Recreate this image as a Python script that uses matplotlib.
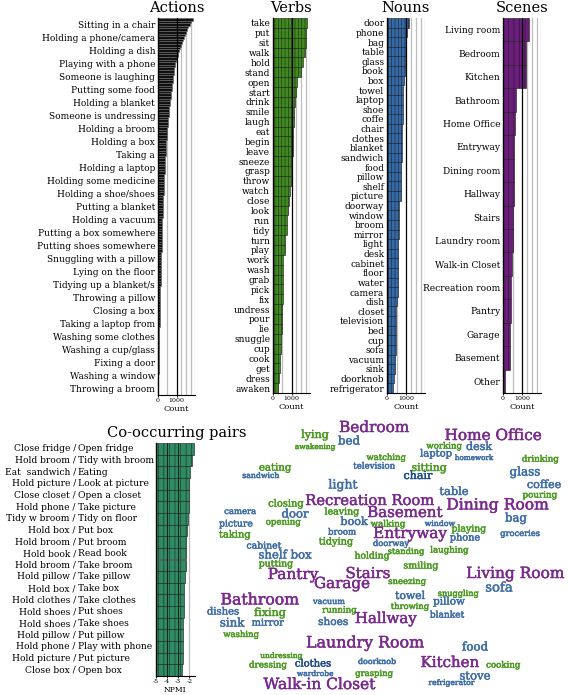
import matplotlib.pyplot as plt
import matplotlib.patheffects as pe
from matplotlib.transforms import blended_transform_factory

plt.rcParams["font.family"] = "DejaVu Serif"
plt.rcParams["hatch.linewidth"] = 0.35

# ---------------- data ----------------
action_labels = [
    "Sitting in a chair", "Holding a phone/camera", "Holding a dish",
    "Playing with a phone", "Someone is laughing", "Putting some food",
    "Holding a blanket", "Someone is undressing", "Holding a broom",
    "Holding a box", "Taking a", "Holding a laptop", "Holding some medicine",
    "Holding a shoe/shoes", "Putting a blanket", "Holding a vacuum",
    "Putting a box somewhere", "Putting shoes somewhere",
    "Snuggling with a pillow", "Lying on the floor", "Tidying up a blanket/s",
    "Throwing a pillow", "Closing a box", "Taking a laptop from",
    "Washing some clothes", "Washing a cup/glass", "Fixing a door",
    "Washing a window", "Throwing a broom",
]
# one value per action class (only every 5th class is labelled)
action_counts = [
    1880, 1775, 1710, 1640, 1590, 1535, 1480, 1425, 1365, 1310,
    1255, 1205, 1155, 1105, 1060, 1020, 985, 945, 915, 890,
    865, 840, 820, 800, 785, 765, 750, 735, 720, 705,
    690, 670, 650, 630, 615, 600, 585, 573, 560, 548,
    535, 523, 511, 499, 487, 475, 466, 456, 446, 436,
    426, 416, 407, 399, 392, 385, 378, 371, 364, 357,
    349, 342, 335, 328, 321, 314, 307, 300, 292, 285,
    278, 271, 264, 258, 254, 250, 246, 241, 237, 233,
    229, 225, 221, 217, 212, 208, 204, 200, 195, 191,
    187, 183, 179, 175, 170, 166, 162, 158, 153, 149,
    145, 140, 136, 132, 127, 123, 119, 114, 110, 107,
    105, 102, 99, 97, 94, 91, 88, 86, 83, 80,
    77, 74, 71, 68, 65, 62, 59, 56, 53, 50,
    47, 44, 41, 38, 35, 32, 29, 26, 24, 22,
    19, 17, 15, 12, 10,
]

verb_labels = [
    "take", "put", "sit", "walk", "hold", "stand", "open", "start", "drink",
    "smile", "laugh", "eat", "begin", "leave", "sneeze", "grasp", "throw",
    "watch", "close", "look", "run", "tidy", "turn", "play", "work", "wash",
    "grab", "pick", "fix", "undress", "pour", "lie", "snuggle", "cup", "cook",
    "get", "dress", "awaken",
]
verb_counts = [
    1860, 1800, 1780, 1750, 1600, 1530, 1310, 1270, 1200, 1130, 1110, 1100,
    1090, 1070, 1000, 980, 960, 930, 870, 830, 780, 730, 670, 660, 545, 545,
    540, 530, 520, 510, 500, 490, 455, 450, 360, 360, 310, 250,
]

noun_labels = [
    "door", "phone", "bag", "table", "glass", "book", "box", "towel",
    "laptop", "shoe", "coffe", "chair", "clothes", "blanket", "sandwich",
    "food", "pillow", "shelf", "picture", "doorway", "window", "broom",
    "mirror", "light", "desk", "cabinet", "floor", "water", "camera", "dish",
    "closet", "television", "bed", "cup", "sofa", "vacuum", "sink",
    "doorknob", "refrigerator",
]
noun_counts = [
    1180, 1030, 1010, 1000, 960, 930, 880, 860, 850, 840, 820, 810, 800,
    790, 770, 760, 750, 740, 720, 640, 630, 620, 610, 600, 600, 590, 580,
    570, 560, 500, 490, 480, 470, 460, 450, 430, 410, 380, 340,
]

scene_labels = [
    "Living room", "Bedroom", "Kitchen", "Bathroom", "Home Office",
    "Entryway", "Dining room", "Hallway", "Stairs", "Laundry room",
    "Walk-in Closet", "Recreation room", "Pantry", "Garage", "Basement",
    "Other",
]
scene_counts = [
    1390, 1230, 1230, 660, 630, 600, 580, 560, 530, 500, 450, 420, 400,
    390, 350, 110,
]

pair_first = [
    "Close fridge", "Hold broom", "Eat  sandwich", "Hold picture",
    "Close closet", "Hold phone", "Tidy w broom", "Hold box", "Hold broom",
    "Hold book", "Hold broom", "Hold pillow", "Hold box", "Hold clothes",
    "Hold shoes", "Hold shoes", "Hold pillow", "Hold phone", "Hold picture",
    "Close box",
]
pair_second = [
    "Open fridge", "Tidy with broom", "Eating", "Look at picture",
    "Open a closet", "Take picture", "Tidy on floor", "Put box", "Put broom",
    "Read book", "Take broom", "Take pillow", "Take box", "Take clothes",
    "Put shoes", "Take shoes", "Put pillow", "Play with phone",
    "Put picture", "Open box",
]
pair_npmi = [
    -1.56, -1.76, -1.97, -2.03, -2.06, -2.08, -2.09, -2.23, -2.26, -2.32,
    -2.32, -2.35, -2.47, -2.50, -2.52, -2.53, -2.55, -2.56, -2.56, -2.62,
]

# word cloud: words and their vocabulary (s = scene, n = noun, v = verb)
cloud_words = [
    "Bedroom", "lying", "bed", "awakening", "Home Office", "working", "desk",
    "laptop", "homework", "drinking", "watching", "television", "sitting",
    "chair", "eating", "sandwich", "glass", "coffee", "light", "table",
    "pouring", "Recreation Room", "Dining Room", "closing", "door", "camera",
    "leaving", "Basement", "bag", "picture", "opening", "book", "walking",
    "window", "playing", "taking", "broom", "Entryway", "phone", "groceries",
    "cabinet", "tidying", "doorway", "standing", "laughing", "holding",
    "shelf box", "putting", "smiling", "Pantry", "Stairs", "Living Room",
    "Garage", "sneezing", "sofa", "towel", "snuggling", "pillow", "Bathroom",
    "vacuum", "running", "throwing", "blanket", "fixing", "Hallway", "shoes",
    "mirror", "dishes", "sink", "washing", "Laundry Room", "food",
    "undressing", "dressing", "clothes", "doorknob", "Kitchen", "cooking",
    "wardrobe", "grasping", "stove", "refrigerator", "Walk-in Closet",
]
cloud_kinds = [
    "s", "v", "n", "v", "s", "v", "n", "n", "n", "v", "v", "n", "v", "nd",
    "v", "n", "n", "n", "n", "n", "v", "s", "s", "v", "n", "n", "v", "s",
    "n", "n", "v", "n", "v", "n", "v", "v", "n", "s", "n", "n", "n", "v",
    "n", "v", "v", "v", "n", "v", "v", "s", "s", "s", "s", "v", "n", "n",
    "v", "n", "s", "n", "v", "v", "n", "v", "s", "n", "n", "n", "n", "v",
    "s", "n", "v", "v", "nd", "n", "s", "v", "n", "v", "n", "n", "s",
]

# layout of the cloud (figure pixels) and font sizes
cloud_x = [
    374, 315, 349, 315, 493, 444, 479, 436, 474, 540, 386, 374, 429, 418,
    275, 261, 525, 544, 343, 454, 540, 370, 497, 286, 295, 240, 342, 405,
    516, 236, 283, 354, 388, 440, 469, 235, 342, 410, 465, 520, 264, 336,
    391, 406, 449, 372, 285, 276, 421, 293, 368, 515, 342, 407, 499, 410,
    458, 449, 260, 329, 339, 410, 447, 270, 386, 333, 268, 223, 232, 241,
    365, 475, 281, 268, 313, 377, 450, 503, 315, 374, 475, 451, 319,
]
cloud_y = [
    428, 435, 441, 447, 436, 446, 447, 454, 458, 459, 458, 466, 468, 476,
    468, 476, 472, 485, 485, 492, 495, 501, 505, 504, 514, 512, 512, 513,
    518, 524, 522, 522, 524, 524, 529, 535, 532, 534, 538, 534, 546, 542,
    544, 552, 550, 556, 555, 564, 566, 575, 574, 574, 584, 582, 588, 596,
    594, 602, 600, 602, 610, 607, 615, 613, 619, 622, 623, 612, 623, 635,
    643, 647, 656, 665, 664, 662, 663, 665, 674, 674, 676, 683, 685,
]
cloud_size = [
    11, 8, 8.5, 5.3, 11, 6.2, 8, 7.2, 5.2, 6.2, 6.1, 6.2, 7.8, 8,
    7.3, 5.6, 8.6, 8, 9, 8.2, 6.3, 10.6, 11.2, 7.1, 8.4, 6.1, 6.8, 10.8,
    8.4, 6.7, 6.2, 8, 6.3, 5.6, 6.7, 7.1, 6.2, 11, 7, 6, 6.7, 7,
    6, 6, 6.2, 6.6, 8.4, 6.7, 6.8, 11, 10.8, 11.1, 10.9, 6.1, 9.5, 7.8,
    5.9, 7.5, 11.3, 5.8, 6.2, 6, 6.5, 8, 10.8, 7.6, 7, 7.2, 8.5, 6.1,
    11.4, 8.5, 5.4, 6.3, 7.2, 5.7, 10.8, 6.2, 5.4, 6.1, 8.4, 5.5, 11.1,
]
cloud_colors = {"s": "#7a2a8c", "n": "#3f6ea6", "nd": "#1f4b86", "v": "#4b9a22"}

# ---------------- layout ----------------
W, H = 568, 695
fig = plt.figure(figsize=(W / 100, H / 100), dpi=100)


def px_axes(x0, y0, x1, y1):
    return fig.add_axes([x0 / W, 1 - y1 / H, (x1 - x0) / W, (y1 - y0) / H])


def count_panel(ax, values, labels, label_pos, color, edge, hatch, title):
    n = len(values)
    ax.barh(range(n), values, height=1.0, color=color, edgecolor=edge,
            linewidth=0.4, hatch=hatch, zorder=2)
    ax.set_xlim(0, 2000)
    ax.set_ylim(n - 0.5, -0.5)
    for v in (500, 1270, 1520, 1770, 2000):
        ax.axvline(v, color="#bdbdbd", lw=0.9, zorder=1)
    ax.axvline(1000, color="black", lw=0.9, zorder=3)
    ax.set_yticks(label_pos)
    ax.set_yticklabels(labels, fontsize=6.5)
    ax.set_xticks([0, 1000])
    ax.set_xticklabels(["0", "1000"], fontsize=4.5)
    ax.tick_params(axis="y", length=0, pad=2)
    ax.tick_params(axis="x", length=1.5, width=0.6, pad=1)
    ax.set_xlabel("Count", fontsize=6, labelpad=1)
    ax.set_title(title, fontsize=10.5, pad=4)
    for s in ("top", "right"):
        ax.spines[s].set_visible(False)
    ax.spines["left"].set_linewidth(1.0)
    ax.spines["bottom"].set_linewidth(0.8)


ax_act = px_axes(158, 18, 195, 395)
count_panel(ax_act, action_counts, action_labels,
            [5 * k + 2 for k in range(len(action_labels))],
            "#111111", "#6a6a6a", None, "Actions")

ax_verb = px_axes(273, 18, 310, 393)
count_panel(ax_verb, verb_counts, verb_labels, range(len(verb_labels)),
            "#3f8a1e", "#1a1a1a", "|||||", "Verbs")

ax_noun = px_axes(387, 18, 425, 393)
count_panel(ax_noun, noun_counts, noun_labels, range(len(noun_labels)),
            "#356aa8", "#1a1a1a", "|||||", "Nouns")

ax_scene = px_axes(503, 18, 541, 393)
count_panel(ax_scene, scene_counts, scene_labels, range(len(scene_labels)),
            "#6a1d7a", "#1a1a1a", "|||", "Scenes")

# co-occurring pairs
ax_pair = px_axes(155.5, 443, 194.5, 676)
n = len(pair_npmi)
ax_pair.barh(range(n), [v + 5 for v in pair_npmi], left=-5, height=1.0,
             color="#2e8b62", edgecolor="#1a1a1a", linewidth=0.4,
             hatch="|||", zorder=2)
ax_pair.set_xlim(-5, -1.55)
ax_pair.set_ylim(n - 0.5, -0.5)
ax_pair.axvline(-2, color="#bdbdbd", lw=0.9, zorder=1)
for v in (-4, -3):
    ax_pair.axvline(v, color="#111111", lw=0.6, zorder=3)
ax_pair.set_xticks([-5, -4, -3, -2])
ax_pair.set_xticklabels(["-5", "-4", "-3", "-2"], fontsize=4.5)
ax_pair.set_yticks([])
ax_pair.tick_params(axis="x", length=1.5, width=0.6, pad=1)
ax_pair.set_xlabel("NPMI", fontsize=5.5, labelpad=1)
ax_pair.set_title("Co-occurring pairs", fontsize=10.5, pad=4, x=0.55)
for s in ("top", "right"):
    ax_pair.spines[s].set_visible(False)
ax_pair.spines["left"].set_linewidth(1.0)
ax_pair.spines["bottom"].set_linewidth(0.8)

lab_tr = blended_transform_factory(fig.transFigure, ax_pair.transData)
for i, (a, b) in enumerate(zip(pair_first, pair_second)):
    ax_pair.text(76 / W, i, a + " /", transform=lab_tr, ha="right",
                 va="center", fontsize=6.6, clip_on=False)
    ax_pair.text(77.5 / W, i, b, transform=lab_tr, ha="left",
                 va="center", fontsize=6.6, clip_on=False)

# word cloud
ax_cloud = px_axes(200, 412, 568, 695)
ax_cloud.set_xlim(200, 568)
ax_cloud.set_ylim(695, 412)
ax_cloud.axis("off")
for w, k, x, y, s in zip(cloud_words, cloud_kinds, cloud_x, cloud_y, cloud_size):
    c = cloud_colors[k]
    ax_cloud.text(x, y, w, color=c, fontsize=s, ha="center", va="center",
                  clip_on=False,
                  path_effects=[pe.withStroke(linewidth=0.35, foreground=c)])

fig.savefig("out.png", dpi=100)
